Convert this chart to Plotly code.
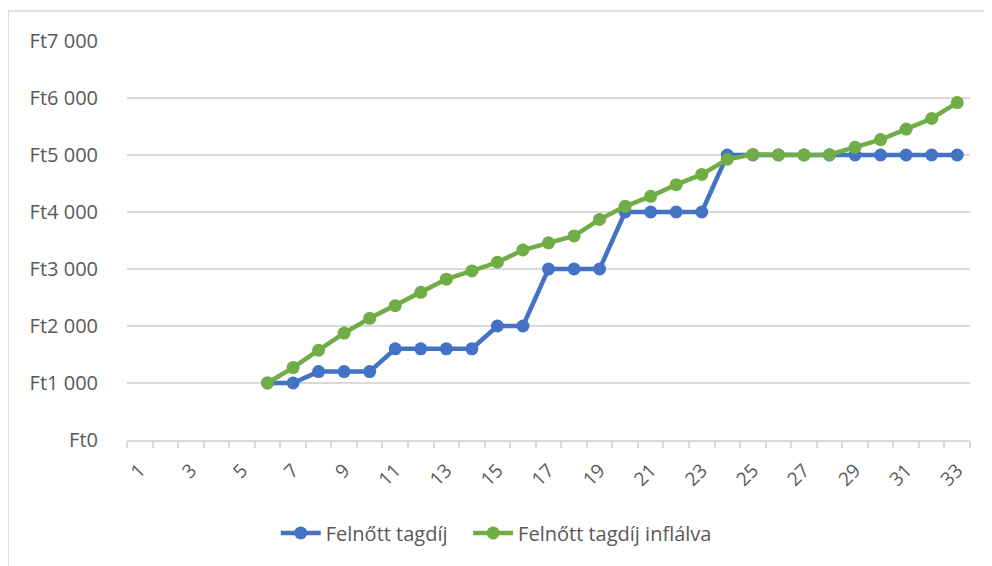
import plotly.graph_objects as go

categories = list(range(1, 34))
felnott_tagdij = [None, None, None, None, None,
                  1000, 1000, 1200, 1200, 1200, 1600, 1600, 1600, 1600, 2000, 2000,
                  3000, 3000, 3000, 4000, 4000, 4000, 4000,
                  5000, 5000, 5000, 5000, 5000, 5000, 5000, 5000, 5000, 5000]
felnott_tagdij_inflalva = [None, None, None, None, None,
                           1000, 1270, 1575, 1876, 2135, 2357, 2590, 2822, 2967, 3118, 3333,
                           3460, 3580, 3870, 4100, 4275, 4480, 4660,
                           4925, 5010, 5000, 5000, 5005, 5135, 5270, 5455, 5640, 5920]
x_tick_labels = [str(c) for c in categories if c % 2 == 1]

BLUE = "#4472C4"
GREEN = "#70AD47"
GRID = "#D9D9D9"
TXT = "#595959"
FONT = "Open Sans"
NBSP = "\u00a0"

fig = go.Figure()
fig.add_trace(go.Scatter(x=categories, y=felnott_tagdij, name="Felnőtt tagdíj" + NBSP * 3,
                         mode="lines+markers",
                         line=dict(color=BLUE, width=4.5),
                         marker=dict(color=BLUE, size=13)))
fig.add_trace(go.Scatter(x=categories, y=felnott_tagdij_inflalva, name="Felnőtt tagdíj inflálva",
                         mode="lines+markers",
                         line=dict(color=GREEN, width=4.5),
                         marker=dict(color=GREEN, size=13)))

# page has an 8px body margin; margins compensate so the plot lands where the reference has it
fig.update_layout(
    width=992, height=566,
    margin=dict(l=119, r=30, t=33, b=134),
    paper_bgcolor="white", plot_bgcolor="white",
    font=dict(family=FONT, size=19, color=TXT),
    separators=", ",
    showlegend=True,
    legend=dict(orientation="h", x=0.438, xanchor="center", y=-0.233, yanchor="middle",
                font=dict(family=FONT, size=20, color=TXT), itemwidth=40,
                bgcolor="rgba(0,0,0,0)"),
    shapes=[dict(type="rect", xref="paper", yref="paper",
                 x0=-0.141, x1=1.3, y0=-0.6, y1=1.075,
                 line=dict(color=GRID, width=1.5), fillcolor="rgba(0,0,0,0)", layer="below")],
)

fig.update_xaxes(
    range=[0.5, 33.5],
    tickmode="array", tickvals=[c for c in categories if c % 2 == 1], ticktext=x_tick_labels,
    tickangle=-45, ticks="", showgrid=False,
    showline=True, linecolor=GRID, linewidth=1.5,
    ticklabelstandoff=10,
    tickfont=dict(family=FONT, size=19, color=TXT),
    minor=dict(tickmode="linear", tick0=0.5, dtick=1, ticks="outside", ticklen=6,
               tickcolor=GRID, tickwidth=1.5, showgrid=False),
    zeroline=False,
)
fig.update_yaxes(
    range=[0, 7000], dtick=1000, tickprefix="Ft", tickformat=",d",
    showgrid=True, gridcolor=GRID, gridwidth=1.5,
    zeroline=False, showline=False, ticks="",
    ticklabelstandoff=28,
    tickfont=dict(family=FONT, size=20, color=TXT),
)

fig.write_html("out.html")
